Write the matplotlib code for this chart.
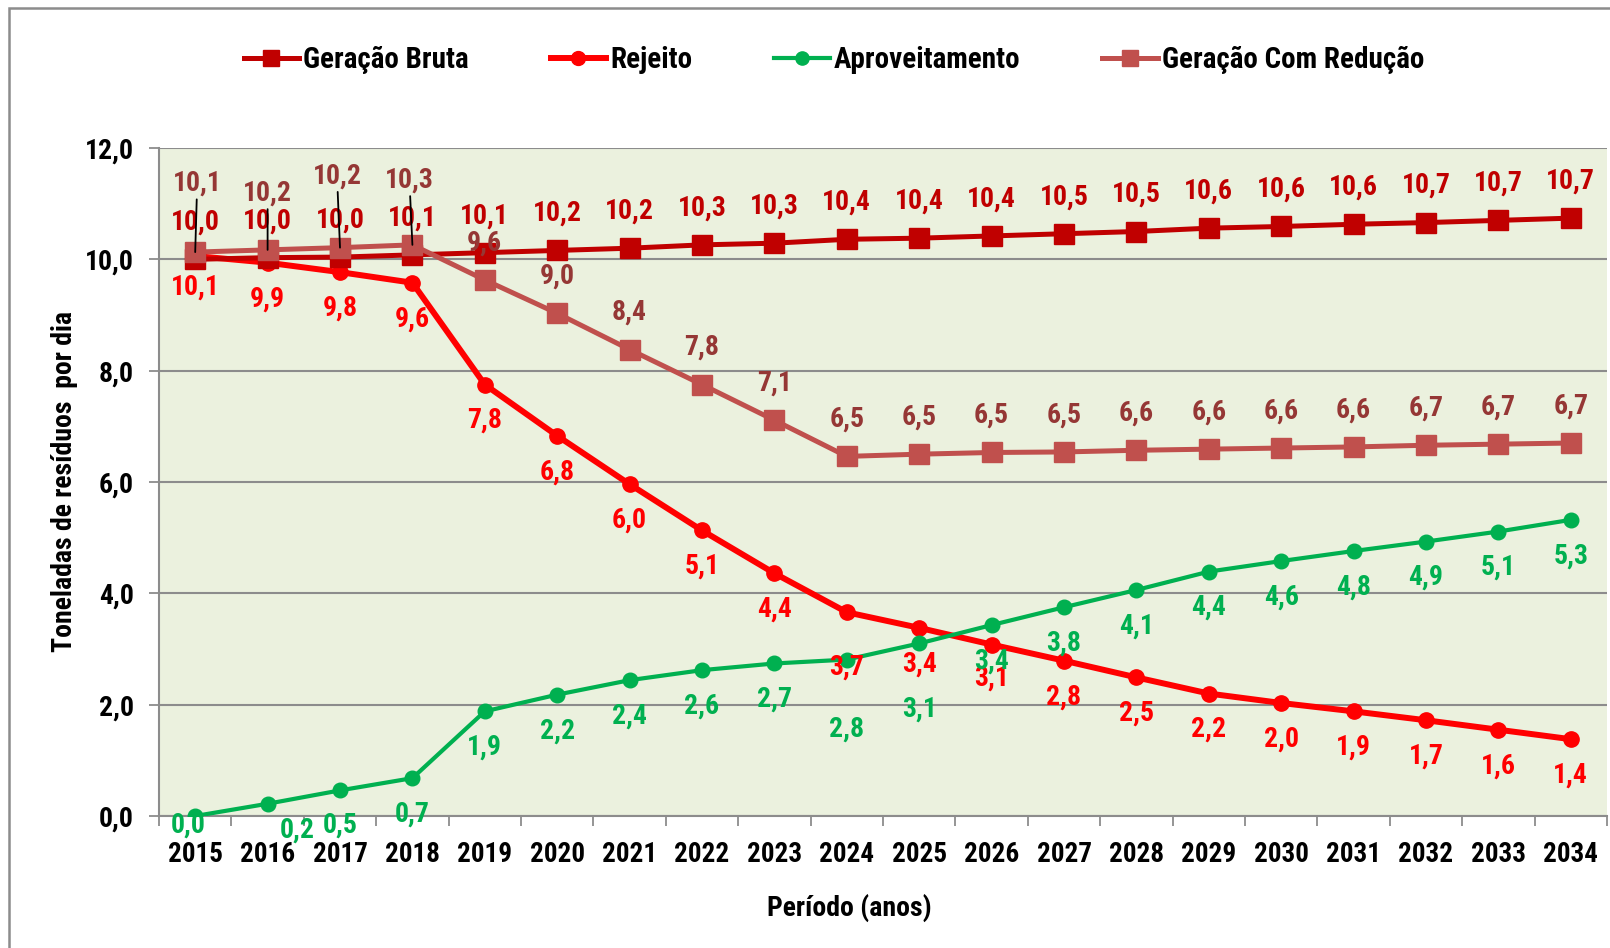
import matplotlib
matplotlib.use("Agg")
import matplotlib.pyplot as plt
from matplotlib import font_manager
from matplotlib.lines import Line2D

# ---------------- data ----------------
years = [str(y) for y in range(2015, 2035)]
geracao_bruta = [10.00, 10.03, 10.04, 10.08, 10.12, 10.16, 10.20, 10.26, 10.29, 10.36,
                 10.38, 10.42, 10.46, 10.50, 10.56, 10.59, 10.63, 10.66, 10.70, 10.74]
rejeito = [10.06, 9.94, 9.77, 9.58, 7.75, 6.83, 5.96, 5.13, 4.36, 3.66,
           3.38, 3.08, 2.79, 2.49, 2.20, 2.03, 1.88, 1.72, 1.55, 1.38]
aproveitamento = [0.00, 0.22, 0.46, 0.68, 1.88, 2.18, 2.44, 2.62, 2.74, 2.81,
                  3.10, 3.43, 3.75, 4.06, 4.39, 4.58, 4.76, 4.93, 5.11, 5.32]
geracao_reducao = [10.13, 10.17, 10.21, 10.26, 9.63, 9.03, 8.38, 7.75, 7.11, 6.46,
                   6.50, 6.53, 6.54, 6.57, 6.59, 6.61, 6.63, 6.66, 6.68, 6.70]
yticks = [0, 2, 4, 6, 8, 10, 12]

# ---------------- font ----------------
names = sorted({f.name for f in font_manager.fontManager.ttflist})
fam = None
for key in ["Liberation Sans Narrow", "Arial Narrow", "Roboto Condensed"]:
    if key in names:
        fam = key
        break
if fam is None:
    for key in ["Narrow", "Condensed"]:
        cands = [n for n in names if key in n]
        if cands:
            fam = cands[0]
            break
condensed_fallback = fam is None
if fam is None:
    fam = "DejaVu Sans"
plt.rcParams["font.family"] = [fam, "DejaVu Sans"]
plt.rcParams["font.weight"] = "bold"
plt.rcParams["axes.labelweight"] = "bold"
if condensed_fallback:
    plt.rcParams["font.stretch"] = "condensed"

def fmt(v):
    return f"{v:.1f}".replace(".", ",")

# ---------------- figure ----------------
W, H = 1610, 948
fig = plt.figure(figsize=(W / 100, H / 100), dpi=100)
fig.patch.set_facecolor("white")
fig.add_artist(plt.Rectangle((9 / W, -0.05), 1.2, 1 - 8 / H + 0.05, transform=fig.transFigure,
                             fill=False, edgecolor="#8C8C8C", lw=1.8))

ax = fig.add_axes([159 / W, 1 - 816 / H, (1607 - 159) / W, (816 - 148) / H])
ax.set_facecolor("#EBF1DE")

x = list(range(len(years)))

c_gb, c_rej, c_apr, c_gcr = "#C00000", "#FF0000", "#00B050", "#C0504D"
c_gcr_lab = "#953735"

ax.plot(x, geracao_bruta, color=c_gb, lw=3.6, marker="s", ms=14, mec=c_gb, zorder=4)
ax.plot(x, rejeito, color=c_rej, lw=4.3, marker="o", ms=11, mec=c_rej, zorder=3)
ax.plot(x, aproveitamento, color=c_apr, lw=3.0, marker="o", ms=10.5, mec=c_apr, zorder=3)
ax.plot(x, geracao_reducao, color=c_gcr, lw=3.6, marker="s", ms=14, mec=c_gcr, zorder=5)

ax.set_xlim(-0.5, len(years) - 0.5)
ax.set_ylim(0, 12)
ax.set_yticks(yticks)
ax.set_yticklabels([fmt(v) for v in yticks], fontsize=20)
ax.set_xticks(x)
ax.set_xticklabels(years, fontsize=19.5)
ax.set_xticks([i - 0.5 for i in range(len(years) + 1)], minor=True)
ax.tick_params(axis="x", which="major", length=0, pad=18)
ax.tick_params(axis="x", which="minor", length=7, width=1.3, color="#8C8C8C", direction="out")
ax.tick_params(axis="y", length=7, width=1.3, color="#8C8C8C", pad=11)

ax.grid(axis="y", color="#8C8C8C", lw=1.5, zorder=1)
ax.set_axisbelow(True)
for s in ["top", "right"]:
    ax.spines[s].set_visible(False)
for s in ["left", "bottom"]:
    ax.spines[s].set_color("#8C8C8C")
    ax.spines[s].set_linewidth(1.5)

ax.set_ylabel("Toneladas de resíduos  por dia", fontsize=20, va="center")
ax.yaxis.set_label_coords((64 - 159) / 1448, 0.5)
ax.set_xlabel("Período (anos)", fontsize=20, va="center")
ax.xaxis.set_label_coords((849 - 159) / 1448, (816 - 908) / 668)

# ---------------- data labels ----------------
LFS = 20
off_gb = [(0, 37)] * len(years)
off_rej = [(0, -36)] * len(years)
off_rej[0] = (0, -31)
off_rej[9] = (0, -55)
off_rej[11] = (0, -34)
off_apr = [(0, -36)] * len(years)
off_apr[0] = (-7, -9)
off_apr[1] = (30, -26)
off_apr[2] = (0, -35)
off_apr[9] = (0, -70)
off_apr[10] = (0, -66)
off_gcr = [(0, 37)] * len(years)
off_gcr[0] = (2, 69)
off_gcr[1] = (0, 57)
off_gcr[2] = (-3, 72)
off_gcr[3] = (-3, 65)

def put(vals, offs, color, leader=()):
    for i, v in enumerate(vals):
        kw = {}
        if i in leader:
            kw["arrowprops"] = dict(arrowstyle="-", color="black", lw=1.3, shrinkA=0, shrinkB=0)
        ax.annotate(fmt(v), (i, v), xytext=offs[i], textcoords="offset pixels",
                    ha="center", va="center", fontsize=LFS, color=color, zorder=7,
                    annotation_clip=False, **kw)

put(geracao_bruta, off_gb, c_gb)
put(rejeito, off_rej, c_rej)
put(aproveitamento, off_apr, c_apr)
put(geracao_reducao, off_gcr, c_gcr_lab, leader=(0, 1, 2, 3))

# ---------------- legend ----------------
handles = [
    Line2D([], [], color=c_gb, lw=3.6, marker="s", ms=12),
    Line2D([], [], color=c_rej, lw=4.3, marker="o", ms=10),
    Line2D([], [], color=c_apr, lw=3.0, marker="o", ms=9.5),
    Line2D([], [], color=c_gcr, lw=3.6, marker="s", ms=12),
]
labels = ["Geração Bruta", "Rejeito", "Aproveitamento", "Geração Com Redução"]
fig.legend(handles, labels, loc="center", bbox_to_anchor=(0.518, 0.937), ncol=4,
           frameon=False, fontsize=21, handlelength=1.9, handletextpad=0.15,
           columnspacing=2.8)

fig.savefig("out.png", dpi=100)
